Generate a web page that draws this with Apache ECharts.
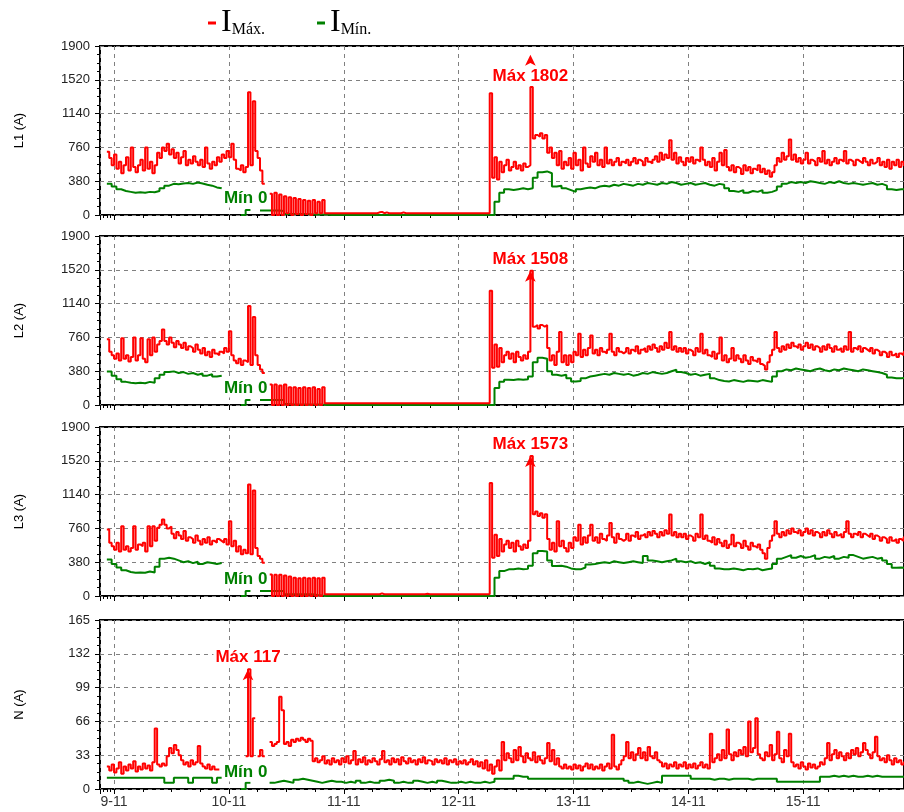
<!DOCTYPE html>
<html>
<head>
<meta charset="utf-8">
<script src="https://cdn.jsdelivr.net/npm/echarts@6/dist/echarts.min.js"></script>
<style>
html, body { margin: 0; background: #fff; }
#main { width: 904px; height: 812px; }
</style>
</head>
<body>
<div id="main"></div>
<script>
// IMáx. every 30 min, from 8-11 22:30 ; IMín. every hour, same start
var l1Max = [
  710,640,560,680,520,600,470,560,650,500,760,540,480,560,620,500,760,520,600,470,560,700,640,760,
  720,800,680,740,640,700,580,650,720,560,620,580,660,600,560,620,540,760,580,520,600,560,650,600,
  680,640,720,650,800,620,520,500,560,480,540,1380,560,1280,720,640,500,350,null,null,240,0,250,0,
  230,0,210,20,200,0,190,10,180,0,170,10,160,0,170,20,150,20,170,20,20,20,20,20,
  20,20,20,20,20,20,20,20,20,20,20,20,20,20,20,20,20,30,35,20,30,20,20,20,
  20,20,20,30,20,20,20,20,20,20,20,20,20,20,20,20,20,20,20,20,20,20,20,20,
  20,20,20,20,20,20,20,20,20,20,20,20,20,20,20,20,1370,420,650,400,600,480,560,620,
  500,540,600,520,560,500,580,540,560,1440,860,900,880,920,860,900,700,760,640,700,560,720,520,600,
  560,640,520,700,560,620,500,760,580,540,660,600,700,560,620,540,760,580,620,560,600,640,560,600,
  580,620,560,600,640,580,620,600,560,640,600,580,620,660,600,700,620,680,640,840,620,700,580,650,
  600,560,640,600,650,580,620,600,760,620,560,600,540,640,500,600,700,560,730,540,500,560,480,540,
  520,460,560,500,540,470,520,500,560,480,520,460,500,430,480,560,640,600,700,620,660,850,620,680,
  600,640,580,620,700,580,620,600,560,640,600,720,580,620,560,600,640,580,620,600,720,580,620,600,
  560,620,600,580,640,600,560,620,580,600,640,560,600,540,620,520,600,560,620,540,600,560,580,560
];
var l1Min = [
  350,320,290,270,260,250,255,250,260,255,270,300,330,350,345,355,360,350,365,355,340,330,310,300,
  null,null,null,null,0,55,null,null,50,50,50,50,45,10,10,10,10,10,5,5,5,5,0,0,
  0,0,0,0,0,0,0,0,0,0,0,0,0,0,0,0,0,0,0,0,0,0,0,0,
  0,0,0,0,0,0,0,0,0,150,250,290,280,290,300,290,300,420,480,490,470,320,330,300,
  280,260,290,300,310,300,320,330,320,340,330,350,340,330,350,340,360,350,340,360,350,370,360,340,
  350,360,340,350,360,340,330,350,340,300,270,260,280,250,270,260,280,250,260,280,320,350,370,360,
  370,360,380,370,360,350,370,360,380,360,350,360,350,340,350,360,340,350,330,290,280,290,290,300
];
var l2Max = [
  740,600,560,520,580,500,750,520,560,490,540,760,500,560,750,520,480,740,560,760,600,680,720,850,
  720,680,760,700,650,720,680,640,700,620,660,640,600,680,620,580,640,560,600,540,620,580,560,600,
  580,640,600,830,560,500,470,520,450,500,480,1114,450,990,560,450,400,360,null,null,230,0,230,0,
  220,0,230,0,200,0,200,0,190,0,200,0,190,0,200,0,180,0,200,20,20,20,20,20,
  20,20,20,20,20,20,20,20,20,20,20,20,20,20,20,20,20,20,20,20,20,20,20,20,
  20,20,20,20,20,20,20,20,20,20,20,20,20,20,20,20,20,20,20,20,20,20,20,20,
  20,20,20,20,20,20,20,20,20,20,20,20,20,20,20,20,1284,420,680,430,640,480,560,600,
  520,580,480,600,540,500,560,520,600,1508,880,900,860,900,880,900,640,500,560,450,600,820,480,560,
  450,560,480,600,560,800,540,620,560,640,780,580,620,560,640,600,580,620,800,600,560,640,600,580,
  600,640,580,620,600,660,580,620,640,600,660,620,680,640,600,660,620,700,640,820,620,660,600,640,
  600,640,580,620,600,560,640,600,800,580,620,560,540,600,520,580,760,500,560,480,520,640,500,560,
  520,480,560,500,460,540,500,480,520,460,440,400,480,560,620,820,640,600,660,620,680,640,700,660,
  640,680,620,660,700,640,680,620,660,640,600,660,620,680,640,600,660,620,640,600,660,620,820,600,
  640,620,660,600,640,620,600,640,580,620,600,560,600,580,540,600,560,580,540,580,560,600,560,580
];
var l2Min = [
  378,330,290,260,250,245,250,245,260,250,300,340,370,378,360,370,350,360,340,355,330,345,320,330,
  null,null,null,null,0,57,null,null,57,57,57,57,57,10,5,5,5,5,5,5,5,0,0,0,
  0,0,0,0,0,0,0,0,0,0,0,0,0,0,0,0,0,0,0,0,0,0,0,0,
  0,0,0,0,0,0,0,0,0,190,260,283,280,290,283,290,320,480,530,520,380,340,330,340,
  300,264,270,300,320,330,340,350,340,360,350,340,350,330,340,360,350,370,360,350,360,380,397,370,
  360,340,350,330,340,350,300,280,270,264,280,270,260,275,270,265,280,270,260,320,380,400,390,410,
  400,390,380,400,410,390,380,400,390,410,400,390,380,400,390,380,370,360,340,310,302,300,305,300
];
var l3Max = [
  748,600,560,520,600,500,785,520,560,500,540,785,520,580,560,600,500,785,560,785,620,766,800,860,
  800,760,780,700,650,720,680,640,730,620,660,640,600,680,620,580,640,600,660,580,620,600,640,620,
  600,640,580,840,560,620,500,560,470,520,480,1253,470,1185,540,450,420,374,null,null,243,0,240,0,
  240,0,230,0,220,0,205,0,200,0,205,0,200,0,205,0,200,0,205,20,20,20,20,20,
  20,20,20,20,20,20,20,20,20,20,20,20,20,20,20,20,20,20,30,20,20,20,20,20,
  20,20,20,20,20,20,20,20,20,20,20,20,20,25,20,20,20,20,20,20,20,20,20,20,
  20,20,20,20,20,20,20,20,20,20,20,20,20,20,20,20,1270,430,690,450,640,500,580,620,
  540,600,500,620,560,520,580,540,620,1573,920,950,900,930,880,920,640,520,600,500,840,560,620,540,
  500,600,540,660,620,800,580,660,600,680,800,620,660,600,700,640,620,680,820,660,600,700,640,620,
  640,700,620,680,660,720,640,680,700,660,720,680,730,700,660,720,680,740,700,915,680,720,660,700,
  660,700,640,680,660,620,700,660,915,640,680,620,600,660,580,640,600,560,620,540,580,690,560,600,
  580,540,620,560,520,600,560,540,580,520,480,420,540,620,680,840,700,660,720,680,740,700,760,720,
  700,740,680,720,760,700,740,680,720,700,660,720,680,740,700,660,720,680,700,660,720,840,700,660,
  700,680,720,660,700,680,660,700,640,680,660,620,660,640,600,660,620,640,600,640,620,660,620,640
];
var l3Min = [
  411,360,320,290,270,262,265,262,275,265,330,420,430,420,400,380,390,370,385,360,380,370,360,370,
  null,null,null,null,0,57,null,null,56,56,56,56,56,19,19,19,19,19,19,10,5,0,0,0,
  0,0,0,0,0,0,0,0,0,0,0,0,0,0,0,0,0,0,0,0,0,0,0,0,
  0,0,0,0,0,0,0,0,0,205,280,300,300,310,300,305,340,480,505,500,400,336,340,330,
  310,300,300,320,355,360,370,380,370,390,380,370,380,390,380,370,450,400,390,380,390,400,420,390,
  380,390,370,380,360,380,340,310,300,300,310,300,290,305,300,310,290,300,310,360,420,440,460,430,
  450,430,440,460,420,440,430,450,420,440,430,460,440,420,430,440,420,430,400,360,318,320,315,320
];
var nMax = [
  22,18,24,16,20,26,15,22,18,24,20,27,17,22,19,25,20,23,18,26,59,24,22,25,
  23,32,40,35,43,38,33,28,24,26,22,28,24,26,42,25,22,20,24,19,22,19,19,null,
  null,null,null,null,null,null,null,null,null,null,32,117,32,69,null,32,38,32,null,null,46,42,44,46,
  90,77,44,46,42,48,46,49,47,50,48,46,49,47,27,30,26,28,32,25,28,24,30,26,
  28,24,30,26,32,25,28,37,24,29,26,31,24,28,26,30,27,24,29,37,26,28,24,30,
  26,29,24,31,27,25,30,26,28,24,29,26,31,25,28,27,24,29,26,28,25,30,24,28,
  26,29,24,27,25,28,24,26,29,24,27,22,26,20,28,18,24,15,22,28,18,46,28,35,
  30,26,38,28,41,32,26,35,30,28,36,26,32,28,25,30,45,27,38,24,30,22,20,24,
  20,22,19,24,20,23,18,22,25,20,24,19,22,20,24,18,22,25,20,53,22,19,24,28,
  32,46,30,36,28,34,40,30,36,28,41,32,30,36,28,26,22,25,20,24,22,26,20,24,
  22,26,20,24,21,25,20,23,26,21,24,20,54,26,30,34,28,38,30,58,34,28,36,32,
  38,34,41,32,66,36,40,69,34,30,28,36,32,43,28,34,56,30,26,38,32,54,26,22,
  24,20,26,22,19,25,21,24,20,22,26,24,30,45,28,34,38,30,36,32,28,35,30,38,
  34,40,32,36,45,38,34,30,36,51,32,28,30,26,33,28,24,30,26,28,24,26,24,26
];
var nMin = [
  11,11,11,11,11,11,11,11,11,11,11,11,6,6,11,11,11,6,11,11,11,11,6,11,
  null,null,null,null,0,6,null,null,null,null,6,7,8,7,6,9,10,9,8,7,6,7,8,7,
  7,6,7,6,8,6,7,6,6,8,9,8,6,7,6,6,8,7,6,7,6,8,7,6,
  6,7,6,7,6,6,7,6,7,10,10,10,10,13,12,12,10,10,10,10,10,10,10,10,
  10,10,10,10,10,10,10,10,10,10,10,10,8,6,7,6,5,6,7,6,13,13,13,13,
  13,13,10,10,10,10,9,10,10,9,10,10,10,10,9,10,10,10,10,10,7,7,7,7,
  7,7,7,7,7,12,12,13,12,13,12,13,12,12,13,12,13,12,12,12,12,12,12,12
];

var panelNames = ['L1 (A)', 'L2 (A)', 'L3 (A)', 'N (A)'];
var yMaxes = [1900, 1900, 1900, 165];
var ySteps = [380, 380, 380, 33];
var maxValues = [1802, 1508, 1573, 117];
var maxHours = [87, 87, 87, 28];   // hours after 9-11 00:00
var minHour = 27.5;

var HOUR = 3600000;
var t0 = new Date(2021, 10, 8, 22, 30).getTime();
var axisMin = new Date(2021, 10, 8, 21, 4).getTime();
var axisMax = axisMin + 7 * 24 * HOUR;
function atHour(h) { return t0 + (h + 1.5) * HOUR; }

var maxSets = [l1Max, l2Max, l3Max, nMax];
var minSets = [l1Min, l2Min, l3Min, nMin];
var tops = [46, 236, 427, 620];

var RED = '#ff0000', GREEN = '#008000';
var FONT = 'Arial, Liberation Sans';
var grids = [], xAxes = [], yAxes = [], series = [];

for (var i = 0; i < 4; i++) {
  grids.push({ left: 100, right: -2, top: tops[i], height: 169, show: true,
               borderColor: '#000', borderWidth: 2, backgroundColor: '#fff' });
  xAxes.push({
    type: 'time', gridIndex: i, min: axisMin, max: axisMax,
    minInterval: 24 * HOUR, maxInterval: 24 * HOUR,
    axisLine: { show: false },
    axisTick: { show: true, length: 5, lineStyle: { color: '#000' } },
    minorTick: { show: true, splitNumber: 4, length: 3, lineStyle: { color: '#000' } },
    axisLabel: {
      show: i === 3, color: '#333', fontSize: 14, margin: 6, fontFamily: FONT,
      formatter: function (v) { var d = new Date(v); return d.getDate() + '-' + (d.getMonth() + 1); }
    },
    splitLine: { show: true, lineStyle: { color: '#808080', width: 1, type: [4, 4] } }
  });
  yAxes.push({
    type: 'value', gridIndex: i, min: 0, max: yMaxes[i], interval: ySteps[i],
    name: panelNames[i], nameLocation: 'middle', nameGap: 74,
    nameTextStyle: { fontSize: 13, color: '#000', fontFamily: FONT },
    axisLine: { show: false },
    axisTick: { show: true, length: 5, lineStyle: { color: '#000' } },
    minorTick: { show: true, splitNumber: 4, length: 3, lineStyle: { color: '#000' } },
    axisLabel: { color: '#222', fontSize: 13, margin: 10, fontFamily: FONT,
                 formatter: function (v) { return String(v); } },
    splitLine: { show: true, lineStyle: { color: '#808080', width: 1, type: [4, 4] } }
  });

  var mx = maxSets[i], mn = minSets[i];
  series.push({
    name: 'IMáx.', type: 'line', xAxisIndex: i, yAxisIndex: i, step: 'end',
    showSymbol: false, symbol: 'none', color: RED, lineStyle: { color: RED, width: 2 },
    data: mx.map(function (v, k) { return [t0 + k * HOUR / 2, v]; }),
    markPoint: {
      silent: true,
      data: [{
        coord: [atHour(maxHours[i]), maxValues[i]],
        symbol: 'arrow', symbolSize: [8, 11],
        itemStyle: { color: RED },
        label: {
          show: true, formatter: 'Máx ' + maxValues[i],
          position: i === 0 ? 'bottom' : 'top', distance: i === 0 ? 1 : 2,
          color: RED, fontWeight: 'bold', fontSize: 17, fontFamily: FONT,
          backgroundColor: '#fff', padding: [1, 2]
        }
      }]
    },
    z: 3
  });
  series.push({
    name: 'IMín.', type: 'line', xAxisIndex: i, yAxisIndex: i, step: 'end',
    showSymbol: false, symbol: 'none', color: GREEN, lineStyle: { color: GREEN, width: 2 },
    data: mn.map(function (v, k) { return [t0 + k * HOUR, v]; }),
    markPoint: {
      silent: true,
      data: [{
        coord: [atHour(minHour), 0], symbol: 'circle', symbolSize: 1,
        itemStyle: { color: GREEN },
        label: {
          show: true, formatter: 'Mín 0', position: 'top', distance: 7,
          color: GREEN, fontWeight: 'bold', fontSize: 17, fontFamily: FONT,
          backgroundColor: '#fff', padding: [1, 2]
        }
      }]
    },
    z: 2
  });
}

var chart = echarts.init(document.getElementById('main'));
chart.setOption({
  animation: false,
  backgroundColor: '#fff',
  legend: {
    left: 203, top: 2, icon: 'rect', itemWidth: 8, itemHeight: 3, itemGap: 52,
    data: ['IMáx.', 'IMín.'],
    formatter: function (name) { return '{i|I}{s|' + name.slice(1) + '}'; },
    textStyle: {
      rich: {
        i: { fontFamily: 'Liberation Serif, Times New Roman', fontSize: 32, color: '#000' },
        s: { fontFamily: 'Liberation Serif, Times New Roman', fontSize: 16, color: '#000', padding: [14, 0, 0, 0] }
      }
    }
  },
  grid: grids,
  xAxis: xAxes,
  yAxis: yAxes,
  series: series
});
</script>
</body>
</html>
